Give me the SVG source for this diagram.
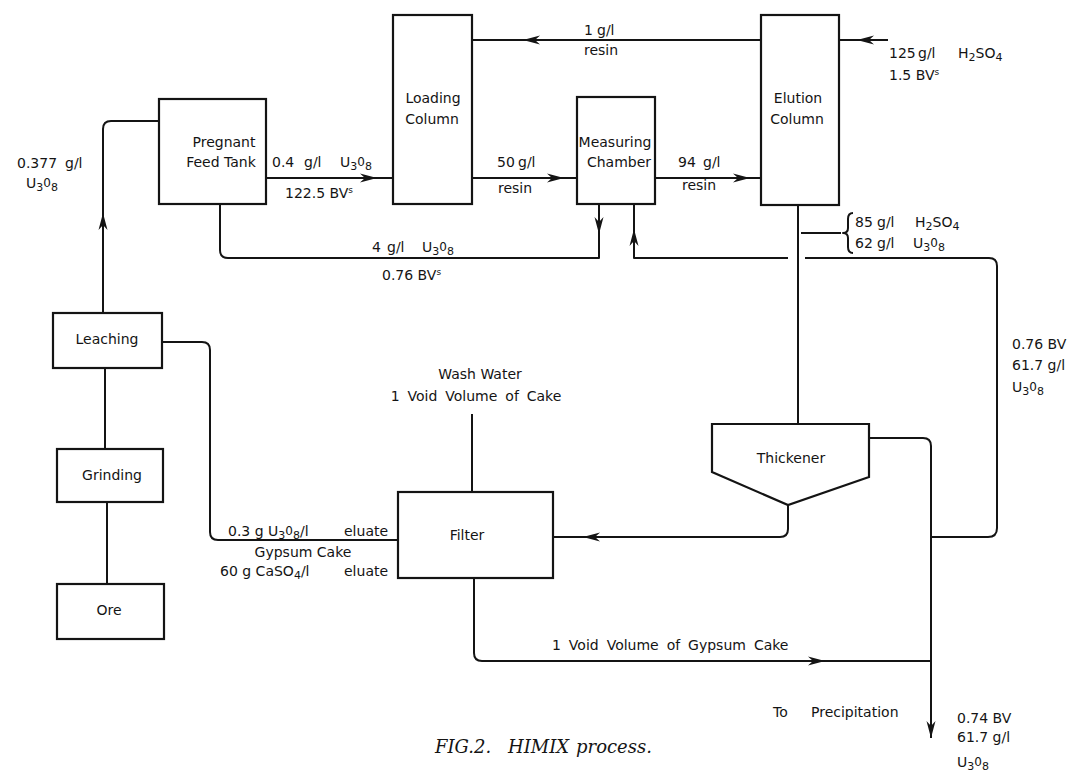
<svg xmlns="http://www.w3.org/2000/svg" xmlns:xlink="http://www.w3.org/1999/xlink" width="1089" height="776" viewBox="0 0 1089 776">
<style>
.ln{fill:none;stroke:#141414;stroke-width:2;stroke-linejoin:round}
.box{fill:#fff;stroke:#141414;stroke-width:2.2}
text{font-family:"DejaVu Sans","Liberation Sans",Arial,sans-serif;font-size:14px;fill:#141414}
.c{text-anchor:middle}
.cap{font-family:"DejaVu Serif","Liberation Serif",serif;font-style:italic;font-size:18px}
.s{font-size:11px}
.ws{word-spacing:3.5px}
.ah{fill:#141414}
</style>
<defs>
<path id="arr" d="M0,0 L-17,-4.5 L-12,0 L-17,4.5 Z"/>
</defs>
<rect width="1089" height="776" fill="#fff"/>

<g id="connectors">
<path class="ln" d="M103,313 V129 Q103,121 111,121 H159"/>
<use href="#arr" class="ah" transform="translate(103,213) rotate(-90)"/>
<path class="ln" d="M266,178 H393"/>
<use href="#arr" class="ah" transform="translate(377,178)"/>
<path class="ln" d="M761,40 H472"/>
<use href="#arr" class="ah" transform="translate(523,40) rotate(180)"/>
<path class="ln" d="M472,178 H577"/>
<use href="#arr" class="ah" transform="translate(564,178)"/>
<path class="ln" d="M655,178 H761"/>
<use href="#arr" class="ah" transform="translate(750,178)"/>
<path class="ln" d="M888,40 H839"/>
<use href="#arr" class="ah" transform="translate(857,40) rotate(180)"/>
<path class="ln" d="M220,204 V250 Q220,258 228,258 H599 V204"/>
<use href="#arr" class="ah" transform="translate(599,234) rotate(90)"/>
<path class="ln" d="M634,204 V258 H788 M805,258 H989 Q997,258 997,266 V528 Q997,537 988,537 H931"/>
<use href="#arr" class="ah" transform="translate(634,229) rotate(-90)"/>
<path class="ln" d="M798,206 V424"/>
<path class="ln" d="M801,233 H841"/>
<path class="ln" d="M853,213 Q848,213 848,219 V228 Q848,233 843,233 Q848,233 848,238 V247 Q848,253 853,253"/>
<path class="ln" d="M869,438 H923 Q931,438 931,446 V738"/>
<use href="#arr" class="ah" transform="translate(931,738) rotate(90)"/>
<path class="ln" d="M788,505 V529 Q788,537 780,537 H553"/>
<use href="#arr" class="ah" transform="translate(583,537) rotate(180)"/>
<path class="ln" d="M474,578 V653 Q474,661 482,661 H931"/>
<use href="#arr" class="ah" transform="translate(825,661)"/>
<path class="ln" d="M472,414 V492"/>
<path class="ln" d="M398,540 H218 Q210,540 210,532 V350 Q210,342 202,342 H162"/>
<path class="ln" d="M105,368 V449"/>
<path class="ln" d="M107,502 V584"/>
</g>

<g id="tank">
<rect class="box" x="159" y="99" width="107" height="105"/>
<text class="c" x="224" y="147">Pregnant</text>
<text class="c" x="221" y="167">Feed Tank</text>
</g>
<g id="loading">
<rect class="box" x="393" y="15" width="79" height="189"/>
<text class="c" x="433" y="103">Loading</text>
<text class="c" x="432" y="124">Column</text>
</g>
<g id="measuring">
<rect class="box" x="577" y="97" width="78" height="107"/>
<text class="c" x="615" y="147" font-size="13.5">Measuring</text>
<text class="c" x="619" y="167" font-size="13.5">Chamber</text>
</g>
<g id="elution">
<rect class="box" x="761" y="15" width="78" height="190"/>
<text class="c" x="798" y="103">Elution</text>
<text class="c" x="797" y="124">Column</text>
</g>
<g id="thickener">
<polygon class="box" points="712,424 869,424 869,477 788,505 712,472"/>
<text class="c" x="791" y="463">Thickener</text>
</g>
<g id="filter">
<rect class="box" x="398" y="492" width="155" height="86"/>
<text class="c" x="467" y="540">Filter</text>
</g>
<g id="leaching">
<rect class="box" x="53" y="313" width="109" height="55"/>
<text class="c" x="107" y="344">Leaching</text>
</g>
<g id="grinding">
<rect class="box" x="57" y="449" width="106" height="53"/>
<text class="c" x="112" y="480">Grinding</text>
</g>
<g id="ore">
<rect class="box" x="57" y="584" width="107" height="55"/>
<text class="c" x="109" y="615">Ore</text>
</g>

<g id="labels">
<text x="17" y="168">0.377</text><text x="65" y="168">g/l</text>
<text x="26" y="188">U<tspan class="s" dy="3">3</tspan><tspan dy="-4" font-size="12">0</tspan><tspan class="s" dy="4">8</tspan></text>
<text x="272" y="167">0.4</text><text x="304" y="167">g/l</text>
<text x="340" y="167">U<tspan class="s" dy="3">3</tspan><tspan dy="-4" font-size="12">0</tspan><tspan class="s" dy="4">8</tspan></text>
<text x="285" y="198">122.5 BV<tspan font-size="9" dy="-5">s</tspan></text>
<text x="372" y="252">4</text><text x="387" y="252">g/l</text>
<text x="422" y="252">U<tspan class="s" dy="3">3</tspan><tspan dy="-4" font-size="12">0</tspan><tspan class="s" dy="4">8</tspan></text>
<text x="382" y="280">0.76 BV<tspan font-size="9" dy="-5">s</tspan></text>
<text x="497" y="167">50</text><text x="518" y="167">g/l</text>
<text x="498" y="193">resin</text>
<text x="678" y="167">94</text><text x="703" y="167">g/l</text>
<text x="682" y="190">resin</text>
<text x="584" y="35">1</text><text x="597" y="35">g/l</text>
<text x="584" y="55">resin</text>
<text x="889" y="58">125</text><text x="918" y="58">g/l</text>
<text x="958" y="58">H<tspan class="s" dy="3">2</tspan><tspan dy="-3">SO</tspan><tspan class="s" dy="3">4</tspan></text>
<text x="889" y="80">1.5 BV<tspan font-size="9" dy="-5">s</tspan></text>
<text x="855" y="227">85</text><text x="877" y="227">g/l</text>
<text x="915" y="227">H<tspan class="s" dy="3">2</tspan><tspan dy="-3">SO</tspan><tspan class="s" dy="3">4</tspan></text>
<text x="855" y="248">62</text><text x="877" y="248">g/l</text>
<text x="913" y="248">U<tspan class="s" dy="3">3</tspan><tspan dy="-4" font-size="12">0</tspan><tspan class="s" dy="4">8</tspan></text>
<text x="1012" y="349">0.76 BV</text>
<text x="1012" y="370">61.7 g/l</text>
<text x="1012" y="392">U<tspan class="s" dy="3">3</tspan><tspan dy="-4" font-size="12">0</tspan><tspan class="s" dy="4">8</tspan></text>
<text class="c" x="480" y="379">Wash Water</text>
<text class="c ws" x="476" y="401">1 Void Volume of Cake</text>
<text x="228" y="536">0.3 g U<tspan class="s" dy="3">3</tspan><tspan dy="-4" font-size="12">0</tspan><tspan class="s" dy="4">8</tspan><tspan dy="-3">/l</tspan></text>
<text x="344" y="536">eluate</text>
<text class="c" x="303" y="557">Gypsum Cake</text>
<text x="220" y="576">60 g CaSO<tspan class="s" dy="3">4</tspan><tspan dy="-3">/l</tspan></text>
<text x="344" y="576">eluate</text>
<text class="ws" x="552" y="650">1 Void Volume of Gypsum Cake</text>
<text x="773" y="717">To</text>
<text x="811" y="717" font-size="15">Precipitation</text>
<text x="957" y="723">0.74 BV</text>
<text x="957" y="742">61.7 g/l</text>
<text x="957" y="767">U<tspan class="s" dy="3">3</tspan><tspan dy="-4" font-size="12">0</tspan><tspan class="s" dy="4">8</tspan></text>
<text class="cap" x="435" y="753">FIG.2.</text>
<text class="cap" x="508" y="753">HIMIX</text>
<text class="cap" x="576" y="753">process.</text>
</g>
</svg>
